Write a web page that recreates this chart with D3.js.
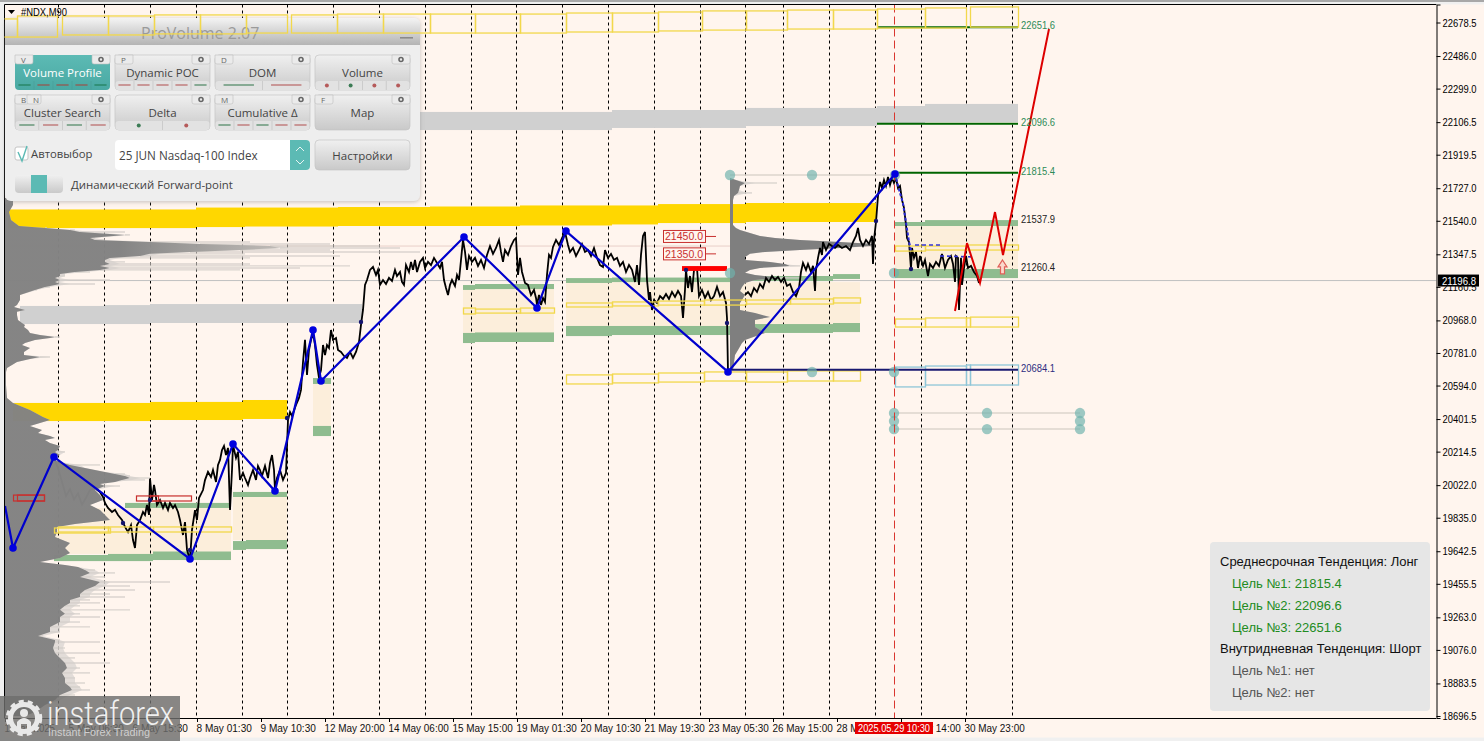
<!DOCTYPE html>
<html><head><meta charset="utf-8">
<script src="https://cdn.jsdelivr.net/npm/d3@7/dist/d3.min.js"></script>
<style>html,body{margin:0;padding:0;background:#f0f0f0;overflow:hidden}svg{display:block}</style>
</head><body><svg id="c" width="1484" height="741"></svg>
<script>
// ---------- chart data (bar number, price) ----------
const yTickValues=[22678.5,22486.0,22299.0,22106.5,21919.5,21727.0,21540.0,21347.5,21160.5,20968.0,20781.0,20594.0,20401.5,20214.5,20022.0,19835.0,19642.5,19455.5,19263.0,19076.0,18883.5,18696.5];
const xTickBars=[5,69,133,197,261,325,389,453,517,581,645,709,773,837,901,965];
const xTickLabels=["1 May 2025","5 May 06:30","6 May 15:30","8 May 01:30","9 May 10:30","12 May 20:00","14 May 06:00","15 May 15:00","19 May 01:30","20 May 10:30","21 May 19:30","23 May 05:30","26 May 15:00","28 May 01:00","29 May 14:00","30 May 23:00"];
const dayBars=[58.5,104.5,150.5,196.5,242.5,287.5,333.5,379.5,425.5,471.5,516.5,562.5,608.5,654.5,700.5,745.5,783.5,829.5,875.5,921.5,966.5,1012.5];
const lastPrice=21196.8;
const pricePath=[[54,20178],[58,20120],[62,20040],[66,19960],[70,20000],[74,19940],[78,19975],[82,19910],[86,19950],[90,19994],[95,20006],[100,19983],[103,19954],[105,19920],[108,19891],[112,19868],[115,19880],[118,19851],[122,19822],[125,19782],[128,19753],[131,19793],[133,19707],[135,19661],[137,19793],[140,19822],[143,19868],[145,19851],[147,19908],[149,19851],[150,20063],[152,19937],[154,20023],[155,19994],[157,19908],[160,19937],[163,19891],[165,19920],[168,19879],[170,19920],[173,19891],[175,19908],[178,19868],[180,19822],[183,19736],[185,19810],[187,19650],[190,19592],[192,19765],[195,19879],[197,19822],[199,19948],[203,19994],[205,20051],[208,20098],[211,20069],[213,20109],[216,20040],[218,20138],[220,20167],[222,20224],[224,20247],[226,20195],[228,20236],[230,19880],[232,20109],[233,20253],[236,20178],[238,20213],[240,20052],[243,20092],[245,20063],[248,20023],[250,20063],[253,20109],[256,20052],[258,20132],[260,20109],[262,20075],[265,20132],[268,20063],[270,20149],[272,20195],[274,20109],[275,19994],[277,20063],[280,20109],[283,20052],[286,20092],[288,20396],[290,20442],[292,20419],[296,20483],[299,20523],[301,20569],[303,20729],[305,20856],[307,20655],[309,20798],[311,20856],[313,20896],[315,20827],[317,20712],[319,20638],[321,20683],[323,20827],[325,20769],[327,20827],[329,20810],[331,20913],[333,20856],[336,20867],[338,20798],[341,20787],[344,20764],[347,20752],[350,20787],[353,20752],[356,20787],[359,20844],[361,20942],[363,21028],[365,21172],[367,21200],[370,21258],[373,21275],[376,21229],[378,21258],[380,21172],[383,21200],[386,21177],[389,21212],[392,21194],[395,21258],[397,21223],[400,21246],[402,21189],[404,21172],[406,21286],[409,21246],[411,21304],[413,21258],[415,21315],[417,21246],[420,21304],[423,21327],[425,21269],[428,21304],[431,21286],[434,21327],[437,21298],[440,21269],[442,21304],[444,21200],[446,21154],[448,21114],[450,21172],[452,21200],[455,21166],[457,21229],[459,21200],[461,21315],[463,21430],[465,21361],[467,21258],[469,21338],[472,21304],[475,21327],[478,21281],[481,21315],[484,21269],[487,21344],[490,21395],[493,21350],[496,21384],[499,21430],[501,21361],[503,21304],[505,21372],[508,21344],[511,21395],[514,21430],[516,21441],[518,21229],[520,21327],[522,21246],[525,21183],[528,21172],[531,21114],[534,21143],[536,21097],[537,21057],[539,21114],[541,21057],[543,21097],[545,21074],[547,21229],[549,21344],[551,21327],[553,21390],[556,21430],[559,21401],[562,21441],[565,21476],[568,21401],[570,21361],[573,21384],[576,21338],[579,21372],[582,21407],[585,21361],[588,21372],[591,21338],[594,21384],[597,21327],[600,21286],[603,21275],[605,21372],[608,21327],[611,21350],[614,21315],[617,21327],[620,21281],[623,21304],[626,21246],[629,21286],[632,21258],[635,21189],[637,21286],[639,21172],[641,21344],[643,21453],[645,21476],[647,21200],[649,21085],[650,21131],[652,21028],[654,21085],[657,21068],[660,21108],[663,21091],[666,21120],[669,21091],[672,21131],[675,21103],[678,21137],[681,21108],[683,20982],[685,21143],[686,21258],[688,21154],[690,21223],[692,21131],[694,21258],[697,21269],[699,21108],[702,21143],[705,21097],[708,21131],[711,21085],[714,21108],[717,21160],[720,21108],[723,21131],[726,21068],[727,20982],[728,20672]];
const pricePathLate=[[745,21114],[748,21131],[751,21108],[754,21154],[757,21131],[760,21177],[763,21154],[766,21212],[769,21189],[772,21223],[775,21200],[778,21218],[781,21189],[784,21212],[787,21166],[790,21177],[793,21131],[796,21108],[799,21154],[801,21246],[803,21298],[806,21258],[808,21292],[811,21246],[813,21281],[815,21137],[816,21258],[818,21327],[820,21384],[822,21344],[823,21418],[826,21372],[829,21407],[832,21395],[835,21384],[838,21401],[842,21384],[846,21395],[850,21372],[853,21418],[856,21453],[858,21499],[860,21430],[863,21395],[866,21430],[869,21407],[872,21453],[873,21292],[874,21430],[876,21533],[878,21683],[880,21763],[882,21728],[884,21774],[886,21740],[888,21792],[890,21746],[892,21786],[894,21757],[896,21786],[898,21728],[900,21740],[902,21660],[904,21614],[906,21516],[907,21441],[909,21418],[911,21263],[912,21384],[914,21327],[916,21361],[918,21269],[920,21338],[923,21281],[925,21315],[928,21223],[930,21292],[933,21269],[936,21304],[939,21281],[942,21350],[945,21269],[948,21315],[951,21338],[953,21292],[955,21189],[956,21338],[958,21327],[959,21028],[961,21327],[962,21172],[964,21269],[966,21338],[968,21269],[971,21281],[974,21246],[977,21223],[979,21183]];
const zigzag=[[5,19902],[13,19661],[54,20184],[190,19598],[233,20258],[275,19988],[313,20913],[321,20620],[464,21447],[537,21039],[566,21481],[728,20672],[895,21809]];
const zigzagForward=[[895,21809],[899,21720],[903,21640],[906,21530],[909,21420],[911,21370]];
const dashSeg1=[[915,21401],[942,21401]];
const dashSeg2=[[940,21338],[975,21332]];
const forecast=[[955,21022],[967,21412],[980,21183],[995,21590],[1003,21343],[1049,22641]];
const pivotDots=[[123,19805],[150,19937],[190,19650],[287,20408],[361,20959],[686,21258],[727,20953],[876,21539],[911,21263]];
const tealDots=[[730,21803],[812,21803],[895,21803],[730,21240],[894,21240],[812,20672],[894,20672],[894,20436],[894,20390],[894,20344],[987,20436],[987,20344],[1080,20436],[1080,20390],[1080,20344]];
const tealLinks=[[730,895,21803],[894,1080,20436],[894,1080,20344]];
const targetLevels=[[877,1018,22651.6,"22651.6"],[877,1018,22096.6,"22096.6"],[895,1018,21815.4,"21815.4"]];
const zoneLabels=[[1018,21537.9,"21537.9"],[1018,21260.4,"21260.4"]];
const supportLevel=[728,1018,20684.1,"20684.1"];
const goldBands=[[8,196,21605,21498],[196,245,21616,21504],[245,338,21616,21507],[338,430,21619,21510],[430,520,21622,21510],[520,612,21628,21513],[612,658,21628,21519],[658,746,21636,21527],[746,876,21642,21533]];
const goldBandsLow=[[13,150,20494,20390],[150,243,20500,20396],[243,287,20511,20402]];
const greyBands=[[420,612,22165,22061],[612,746,22176,22073],[746,877,22188,22084],[877,925,22199,22096],[925,1018,22211,22107],[20,105,21051,20947],[105,150,21056,20947],[150,362,21062,20953]];
const valueAreas=[[54,231,19891,19627],[233,287,19954,19707],[313,331,20603,20362],[463,554,21148,20896],[566,860,21188,20930],[895,1018,21510,21263]];
const greenBars=[[125,231,19920,19891],[54,108,19621,19586],[108,153,19627,19586],[153,231,19641,19592],[233,287,19983,19954],[233,246,19701,19650],[246,287,19707,19655],[313,331,20637,20603],[313,331,20362,20304],[463,475,21171,21143],[475,554,21177,21148],[463,475,20896,20838],[475,554,20899,20844],[566,612,21211,21183],[612,746,21214,21188],[746,833,21223,21194],[833,860,21234,21206],[566,612,20936,20878],[612,746,20936,20884],[746,833,20947,20896],[833,860,20953,20901],[895,925,21533,21510],[925,1018,21544,21510],[895,1018,21263,21211]];
const yellowBoxes=[[54,110,19776,19747],[58,108,19782,19753],[108,153,19782,19753],[153,231,19782,19753],[463,475,21039,21005],[475,520,21033,21010],[520,554,21039,21010],[566,612,21068,21045],[612,658,21074,21051],[658,704,21079,21056],[704,746,21085,21056],[746,790,21085,21062],[790,833,21091,21062],[833,860,21097,21068],[566,612,20655,20603],[612,658,20660,20609],[658,704,20666,20614],[704,746,20672,20620],[746,787,20672,20614],[787,833,20678,20620],[833,860,20678,20620],[895,925,21395,21366],[925,966,21395,21372],[966,1018,21401,21372],[895,925,20976,20930],[925,966,20982,20930],[966,970,20982,20930],[970,1018,20987,20930]];
const topBoxes=[[0,17,22699,22595],[17,57,22716,22595],[62,108,22716,22607],[108,154,22716,22607],[154,200,22722,22613],[200,246,22722,22613],[246,287,22722,22618],[291,337,22722,22618],[337,383,22727,22618],[383,430,22727,22618],[430,475,22727,22618],[475,520,22727,22618],[520,566,22727,22618],[566,612,22733,22624],[612,658,22733,22624],[658,702,22739,22630],[702,746,22745,22635],[746,787,22745,22635],[787,833,22750,22641],[833,877,22750,22641],[877,925,22756,22647],[925,966,22762,22647],[970,1018,22768,22652]];
const blueBoxes=[[895,925,20700,20586],[925,966,20706,20597],[966,970,20712,20597],[970,1018,20712,20597]];
const redBoxes=[[13,44,19965,19931],[17,44,19965,19931],[136,191,19960,19931],[150,158,19960,19931]];
const orderTags=[[663,705,716,21450.0,"21450.0"],[663,705,716,21350.0,"21350.0"]];
const orderBar=[682,727,21280,21252];
const pocLevel=[5,875,21395];
const arrowMark=[[1002.5,21315],[1007,21275],[1004.5,21275],[1004.5,21235],[1000.5,21235],[1000.5,21275],[998,21275]];
// volume profile: [price, core volume, thin volume]
const leftProfile=[[21671,8,8],[21631,8,8],[21591,4,4],[21545,6,6],[21510,14,14],[21499,40,42],[21487,65,70],[21476,75,120],[21459,120,125],[21441,85,90],[21430,90,100],[21418,145,245],[21407,195,325],[21395,265,375],[21384,275,395],[21372,235,325],[21361,185,415],[21350,145,240],[21338,135,335],[21327,105,245],[21315,100,105],[21304,100,120],[21292,105,245],[21281,95,345],[21269,105,295],[21258,95,235],[21246,70,85],[21235,55,60],[21223,55,60],[21212,50,55],[21200,55,105],[21189,50,55],[21177,55,90],[21160,40,45],[21143,30,32],[21114,15,15],[21085,15,15],[21057,12,12],[21045,9,9],[21028,20,20],[21017,12,12],[20999,12,12],[20971,13,13],[20953,17,17],[20942,20,20],[20930,19,19],[20913,23,23],[20896,25,25],[20884,35,35],[20873,50,55],[20867,45,45],[20856,30,30],[20838,20,20],[20827,17,17],[20810,25,25],[20798,22,22],[20787,19,19],[20769,19,19],[20758,35,45],[20746,25,25],[20729,12,12],[20712,7,7],[20695,2,2],[20672,1,1],[20597,1,1],[20523,2,2],[20494,8,8],[20453,25,25],[20413,38,38],[20396,45,45],[20379,35,35],[20362,25,25],[20339,37,37],[20321,33,33],[20304,45,45],[20293,50,50],[20281,40,40],[20264,45,45],[20247,55,55],[20224,53,53],[20213,50,60],[20195,55,55],[20178,45,45],[20166,50,50],[20155,55,55],[20138,65,95],[20121,80,80],[20109,90,90],[20098,100,100],[20086,110,120],[20075,120,125],[20063,125,145],[20052,117,140],[20040,110,110],[20029,95,95],[20017,100,115],[19994,90,90],[19966,95,95],[19937,98,98],[19908,85,85],[19880,95,95],[19851,100,100],[19822,105,105],[19799,70,70],[19782,52,52],[19753,52,52],[19724,50,50],[19690,65,65],[19661,60,60],[19633,65,65],[19604,55,55],[19581,35,35],[19564,60,60],[19552,73,73],[19535,80,90],[19518,85,110],[19495,75,100],[19466,95,165],[19443,90,125],[19420,80,130],[19397,75,105],[19380,75,120],[19363,65,85],[19346,65,95],[19329,60,75],[19306,55,125],[19283,60,75],[19265,55,95],[19236,55,75],[19208,45,85],[19179,45,55],[19156,33,38],[19133,50,55],[19121,50,95],[19087,48,60],[19058,50,95],[19030,55,70],[19001,60,105],[18972,62,75],[18944,57,85],[18915,60,70],[18886,60,80],[18863,65,75],[18846,67,85],[18817,55,70],[18788,50,55],[18760,40,40],[18720,30,30],[18697,20,20]];
const midProfile=[[21785,0,0],[21774,6,6],[21757,15,47],[21740,10,10],[21717,9,9],[21700,8,22],[21683,4,4],[21660,3,3],[21516,3,3],[21499,6,6],[21487,10,10],[21470,20,20],[21453,30,30],[21441,45,45],[21430,70,70],[21418,110,110],[21407,145,145],[21395,140,145],[21384,110,110],[21372,70,70],[21361,35,35],[21350,20,20],[21332,15,15],[21315,15,15],[21304,40,40],[21292,55,55],[21281,60,70],[21269,30,30],[21258,20,20],[21241,15,15],[21229,25,25],[21218,40,40],[21212,50,70],[21200,25,25],[21183,15,15],[21160,12,12],[21137,10,10],[21114,15,15],[21085,12,12],[21068,10,10],[21028,10,10],[21010,25,25],[20988,40,40],[20970,25,25],[20930,25,25],[20896,35,35],[20856,15,15],[20838,12,12],[20798,8,8],[20769,5,5],[20683,3,3]];
const panelButtons=[
 {label:"Volume Profile",keys:["V"],col:0,row:0,active:true,marks:"line",cells:[1,1,1,1,1],tone:"grrrg"},
 {label:"Dynamic POC",keys:["P"],col:1,row:0,marks:"line",cells:[1,1,1,1,1],tone:"rrrrg"},
 {label:"DOM",keys:["D"],col:2,row:0,marks:"line",cells:[1,1],tone:"gr"},
 {label:"Volume",keys:[],col:3,row:0,marks:"dot",cells:[1,1,1,1],tone:"rgrr"},
 {label:"Cluster Search",keys:["B","N"],col:0,row:1,marks:"line",cells:[1,1,1,1],tone:"grgr"},
 {label:"Delta",keys:[],col:1,row:1,marks:"dot",cells:[1,1],tone:"gr"},
 {label:"Cumulative Δ",keys:["M"],col:2,row:1,marks:"line",cells:[1,1,1,1,1],tone:"grgrr"},
 {label:"Map",keys:["F"],col:3,row:1,marks:"none",cells:[],tone:""}];
const trendLines=[["Среднесрочная Тенденция: Лонг","h"],["Цель №1: 21815.4","g"],["Цель №2: 22096.6","g"],["Цель №3: 22651.6","g"],["Внутридневная Тенденция: Шорт","h"],["Цель №1: нет","n"],["Цель №2: нет","n"]];

// ---------- scales ----------
const svg=d3.select("#c");
const L=4.5,R=1436.5,T=4.5,B=718;
const x=d3.scaleLinear().domain([0,1484]).range([0,1484]);
const y=d3.scaleLinear().domain([18685,22781.9]).range([B,T]);
const tickFont="'Liberation Sans',Arial,sans-serif";
svg.append("rect").attr("width",1484).attr("height",741).attr("fill","#f0f0f0");
svg.append("rect").attr("width",1484).attr("height",2).attr("fill","#a8a8a8");
svg.append("rect").attr("x",L).attr("y",T).attr("width",1484-L).attr("height",733).attr("fill","#FFF5EE");
const defs=svg.append("defs");
defs.append("clipPath").attr("id","plot").append("rect").attr("x",L).attr("y",T).attr("width",R-L).attr("height",B-T);
const fade=defs.append("linearGradient").attr("id","gProfile").attr("gradientUnits","userSpaceOnUse").attr("x1",0).attr("x2",400).attr("y1",0).attr("y2",0);
fade.append("stop").attr("offset",.3).attr("stop-color","#7f7f7f");
fade.append("stop").attr("offset",.7).attr("stop-color","#bdb9b5");
fade.append("stop").attr("offset",1).attr("stop-color","#d6d2ce");
const g=svg.append("g").attr("clip-path","url(#plot)");
const addRects=(sel,arr,fill)=>sel.append("g").selectAll("rect").data(arr).join("rect")
  .attr("x",d=>x(d[0])).attr("width",d=>x(d[1])-x(d[0])).attr("y",d=>y(d[2])).attr("height",d=>y(d[3])-y(d[2])).attr("fill",fill);
const addBoxes=(sel,arr,col,sw)=>sel.append("g").selectAll("rect").data(arr).join("rect")
  .attr("x",d=>x(d[0])+.5).attr("width",d=>x(d[1])-x(d[0])).attr("y",d=>y(d[2])).attr("height",d=>y(d[3])-y(d[2])).attr("fill","none").attr("stroke",col).attr("stroke-width",sw);
const ln=d3.line().x(d=>x(d[0])).y(d=>y(d[1]));

addRects(g,valueAreas,"#FCEEDB");
g.append("line").attr("x1",x(pocLevel[0])).attr("x2",x(pocLevel[1])).attr("y1",y(pocLevel[2])).attr("y2",y(pocLevel[2])).attr("stroke","#e8cfc8").attr("stroke-width",1);
g.append("g").selectAll("line").data(dayBars).join("line").attr("x1",d=>x(d)).attr("x2",d=>x(d)).attr("y1",T).attr("y2",B).attr("stroke","#000").attr("stroke-width",1).attr("stroke-dasharray","3,3");
g.append("line").attr("x1",L).attr("x2",R).attr("y1",y(lastPrice)).attr("y2",y(lastPrice)).attr("stroke","#c0c0c0").attr("stroke-width",1);
addRects(g,greyBands,"#D0D0D0");
addRects(g,goldBandsLow,"#FFD700");
addRects(g,greenBars,"#8FBC8F");
addRects(g,goldBands,"#FFD700");

// profiles: a narrow soft edge, thin streaks for the long tails, solid core on top
function drawProfile(data,base,opacity,fill){
  const halo=d3.area().y(d=>y(d[0])).x0(x(base)).x1(d=>x(base+Math.min(d[2],d[1]+10)));
  g.append("path").attr("d",halo(data)).attr("fill","#d6d2ce").attr("opacity",.7);
  g.append("g").selectAll("line").data(data.filter(d=>d[2]>d[1])).join("line")
    .attr("x1",d=>x(base+d[1])).attr("x2",d=>x(base+d[2])).attr("y1",d=>y(d[0])).attr("y2",d=>y(d[0]))
    .attr("stroke","#d4cfca").attr("stroke-width",1.4).attr("opacity",.85);
  const core=d3.area().y(d=>y(d[0])).x0(x(base)).x1(d=>x(base+d[1]));
  g.append("path").attr("d",core(data)).attr("fill",fill).attr("opacity",opacity);
}
drawProfile(midProfile,730,1,"#7f7f7f");
g.append("g").selectAll("line").data(tealLinks).join("line").attr("x1",d=>x(d[0])).attr("x2",d=>x(d[1])).attr("y1",d=>y(d[2])).attr("y2",d=>y(d[2])).attr("stroke","#dcd4cc").attr("stroke-width",1.5);
// price
[pricePath,pricePathLate].forEach(s=>g.append("path").attr("d",ln(s)).attr("fill","none").attr("stroke","#000").attr("stroke-width",1.8).attr("stroke-linejoin","miter"));
drawProfile(leftProfile,5,.94,"url(#gProfile)");

// outlined boxes
addBoxes(g,yellowBoxes,"#F2D84B",1.3);
addBoxes(g,blueBoxes,"#8FC6D8",1.3);
addBoxes(g,redBoxes,"#C8302E",1.2);
// red order markers
addRects(g,[orderBar],"#FF0000");
const tags=g.append("g").selectAll("g").data(orderTags).join("g");
tags.append("line").attr("x1",d=>x(d[1])).attr("x2",d=>x(d[2])).attr("y1",d=>y(d[3])).attr("y2",d=>y(d[3])).attr("stroke","#C8302E");
tags.append("rect").attr("x",d=>x(d[0])+.5).attr("width",d=>x(d[1])-x(d[0])).attr("y",d=>y(d[3])-6).attr("height",12).attr("fill","#FFF5EE").attr("stroke","#C8302E");
tags.append("text").text(d=>d[4]).attr("x",d=>x(d[0])+2).attr("y",d=>y(d[3])+4).attr("font-family",tickFont).attr("font-size",11).attr("fill","#C8302E").attr("textLength",38).attr("lengthAdjust","spacingAndGlyphs");

// level lines
g.append("g").selectAll("line").data(targetLevels).join("line").attr("x1",d=>x(d[0])).attr("x2",d=>x(d[1])).attr("y1",d=>y(d[2])).attr("y2",d=>y(d[2])).attr("stroke","#006400").attr("stroke-width",2);
g.append("line").attr("x1",x(supportLevel[0])).attr("x2",x(supportLevel[1])).attr("y1",y(supportLevel[2])).attr("y2",y(supportLevel[2])).attr("stroke","#191970").attr("stroke-width",2);
g.append("g").selectAll("circle").data(tealDots).join("circle").attr("cx",d=>x(d[0])).attr("cy",d=>y(d[1])).attr("r",5.2).attr("fill","#6FB3AC").attr("opacity",.68);
g.append("line").attr("x1",x(894.5)).attr("x2",x(894.5)).attr("y1",T).attr("y2",B).attr("stroke","#D9362F").attr("stroke-width",1).attr("stroke-dasharray","8,4");
// zigzag
g.append("path").attr("d",ln(zigzag)).attr("fill","none").attr("stroke","#0000CD").attr("stroke-width",2.2);
g.append("path").attr("d",ln(zigzagForward)).attr("fill","none").attr("stroke","#2a2ad8").attr("stroke-width",2).attr("stroke-dasharray","3,2");
[dashSeg1,dashSeg2].forEach(s=>g.append("path").attr("d",ln(s)).attr("fill","none").attr("stroke","#3434d8").attr("stroke-width",1.6).attr("stroke-dasharray","4,3"));
g.append("g").selectAll("circle").data(zigzag.slice(1)).join("circle").attr("cx",d=>x(d[0])).attr("cy",d=>y(d[1])).attr("r",3.8).attr("fill","#0000E0");
g.append("g").selectAll("circle").data(pivotDots).join("circle").attr("cx",d=>x(d[0])).attr("cy",d=>y(d[1])).attr("r",2.2).attr("fill","#14146e");
// forecast
g.append("path").attr("d",ln(forecast)).attr("fill","none").attr("stroke","#DD0000").attr("stroke-width",2);
g.append("path").attr("d",ln(arrowMark)+"Z").attr("fill","#fbd8cc").attr("stroke","#E06058").attr("stroke-width",1.2);

// level labels
const lab=(arr,col)=>g.append("g").selectAll("text").data(arr).join("text").text(d=>d[d.length-1]).attr("x",1021).attr("y",d=>y(d[d.length-2])+2).attr("font-family",tickFont).attr("font-size",11).attr("fill",col).attr("textLength",34).attr("lengthAdjust","spacingAndGlyphs");
lab(targetLevels,"#2E8B57");lab(zoneLabels,"#222");lab([supportLevel],"#2c2c80");

// ---------- axes ----------
const ya=svg.append("g").attr("transform",`translate(${R},0)`).call(d3.axisRight(y).tickValues(yTickValues).tickFormat(d3.format(".1f")).tickSize(4).tickPadding(2));
ya.select(".domain").attr("stroke","#000").attr("stroke-width",1);
ya.selectAll("text").attr("font-family",tickFont).attr("font-size",11).attr("fill","#000").attr("textLength",34).attr("lengthAdjust","spacingAndGlyphs");
const xa=svg.append("g").attr("transform",`translate(0,${B})`).call(d3.axisBottom(x).tickValues(xTickBars).tickFormat((d,i)=>xTickLabels[i]).tickSize(4).tickPadding(2));
xa.select(".domain").attr("d",`M${L},0.5H${R}`).attr("stroke","#000");
xa.selectAll("text").attr("text-anchor","start").attr("dx",-1).attr("font-family",tickFont).attr("font-size",10.6).attr("fill","#111").attr("textLength",d=>{const i=xTickBars.indexOf(d);return xTickLabels[i].length*4.85+2}).attr("lengthAdjust","spacingAndGlyphs");
svg.append("line").attr("x1",L).attr("x2",L).attr("y1",T).attr("y2",B).attr("stroke","#000");
svg.append("line").attr("x1",L).attr("x2",R).attr("y1",T).attr("y2",T).attr("stroke","#000");

// last price and time flags
svg.append("rect").attr("x",1438).attr("y",y(lastPrice)-6).attr("width",41).attr("height",12).attr("fill","#000");
svg.append("text").text(lastPrice.toFixed(1)).attr("x",1442).attr("y",y(lastPrice)+4).attr("font-family",tickFont).attr("font-size",11).attr("fill","#fff").attr("textLength",34).attr("lengthAdjust","spacingAndGlyphs");
svg.append("rect").attr("x",855).attr("y",722).attr("width",78).attr("height",12).attr("fill","#E60000");
svg.append("text").text("2025.05.29 10:30").attr("x",858).attr("y",732).attr("font-family",tickFont).attr("font-size",10.6).attr("fill","#fff").attr("textLength",72).attr("lengthAdjust","spacingAndGlyphs");

// ---------- ProVolume panel ----------
const pf="'Open Sans','Noto Sans',sans-serif";
const mkGrad=(id,a,b)=>{const lg=defs.append("linearGradient").attr("id",id).attr("x1",0).attr("x2",0).attr("y1",0).attr("y2",1);lg.append("stop").attr("offset",0).attr("stop-color",a);lg.append("stop").attr("offset",1).attr("stop-color",b);};
mkGrad("gBtn","#f0f0f0","#c9c9c9");mkGrad("gTitle","#f4f4f4","#b4b4b4");mkGrad("gAct","#5cbab4","#4aa9a3");
const flt=defs.append("filter").attr("id","sh").attr("x","-5%").attr("y","-5%").attr("width","110%").attr("height","110%");
flt.append("feDropShadow").attr("dx",0).attr("dy",1).attr("stdDeviation",2).attr("flood-color","#888").attr("flood-opacity",.5);
const p=svg.append("g");
p.append("rect").attr("x",5).attr("y",18).attr("width",415).attr("height",183).attr("rx",6).attr("fill","#eeeeee").attr("filter","url(#sh)");
p.append("path").attr("d","M5,45V24a6,6 0 0 1 6,-6H414a6,6 0 0 1 6,6V45Z").attr("fill","url(#gTitle)");
p.append("text").text("ProVolume 2.07").attr("x",141).attr("y",39).attr("font-family",pf).attr("font-size",16).attr("fill","#9a9a9a");
p.append("rect").attr("x",400).attr("y",37).attr("width",13).attr("height",1.6).attr("fill","#8a8a8a");
const colX=[15,115,215,315],rowY=[55,95];
panelButtons.forEach(b=>{
  const bx=colX[b.col],by=rowY[b.row],w=95,h=35,gp=p.append("g");
  gp.append("rect").attr("x",bx).attr("y",by).attr("width",w).attr("height",h).attr("rx",4).attr("fill",b.active?"url(#gAct)":"url(#gBtn)").attr("stroke","#c4c4c4").attr("stroke-width",b.active?0:.7);
  b.keys.forEach((k,i)=>{
    gp.append("path").attr("d",`M${bx+i*12},${by}v7a2,2 0 0 0 2,2h${i==0&&b.keys.length==1?14:10}a2,2 0 0 0 2,-2v-7Z`).attr("fill","#ebebeb").attr("stroke","#bdbdbd").attr("stroke-width",.6);
    gp.append("text").text(k).attr("x",bx+6+i*12).attr("y",by+7.5).attr("font-family",pf).attr("font-size",8).attr("fill","#666");
  });
  gp.append("path").attr("d",`M${bx+w-18},${by}v7a2,2 0 0 0 2,2h14a2,2 0 0 0 2,-2v-7Z`).attr("fill","#ebebeb").attr("stroke","#bdbdbd").attr("stroke-width",.6);
  gp.append("circle").attr("cx",bx+w-9).attr("cy",by+4.5).attr("r",2).attr("fill","none").attr("stroke","#666").attr("stroke-width",1.6);
  const hasFoot=b.marks!=="none";
  gp.append("text").text(b.label).attr("x",bx+w/2).attr("y",by+22).attr("text-anchor","middle").attr("font-family",pf).attr("font-size",11.5).attr("fill",b.active?"#fff":"#444");
  if(hasFoot){
    const n=b.cells.length,fy=by+26,fh=9;
    const widths=b.cells.map(()=>w/n);
    let cx=bx;
    if(!b.active)gp.append("rect").attr("x",bx+.5).attr("y",fy).attr("width",w-1).attr("height",fh).attr("rx",3).attr("fill","#e2e2e2");
    widths.forEach((cw,i)=>{
      const col=b.tone[i]==="g"?(b.active?"#1d7a53":"#3c7c55"):(b.active?"#a04a40":"#b55a5a");
      if(i>0)gp.append("line").attr("x1",cx).attr("x2",cx).attr("y1",fy).attr("y2",fy+fh).attr("stroke",b.active?"#4a9e98":"#c2c2c2").attr("stroke-width",.7);
      if(b.marks==="line")gp.append("line").attr("x1",cx+cw*.18).attr("x2",cx+cw*.82).attr("y1",fy+4).attr("y2",fy+4).attr("stroke",col).attr("stroke-width",1.1);
      else gp.append("circle").attr("cx",cx+cw/2).attr("cy",fy+4.5).attr("r",2).attr("fill",col);
      cx+=cw;
    });
  }
});
p.append("rect").attr("x",15).attr("y",147).attr("width",13).attr("height",13).attr("rx",2).attr("fill","#fff").attr("stroke","#c4c4c4");
p.append("path").attr("d","M18,152L22,161L27,146").attr("fill","none").attr("stroke","#5cbab4").attr("stroke-width",1.4);
p.append("text").text("Автовыбор").attr("x",31).attr("y",158).attr("font-family",pf).attr("font-size",11.3).attr("fill","#444");
p.append("rect").attr("x",115).attr("y",140).attr("width",195).attr("height",30).attr("rx",4).attr("fill","#fff");
p.append("path").attr("d","M290,140h16a4,4 0 0 1 4,4v22a4,4 0 0 1 -4,4h-16Z").attr("fill","#5cbab4");
p.append("path").attr("d","M296,151l4,-4l4,4M296,160l4,4l4,-4").attr("fill","none").attr("stroke","#e8f4f3").attr("stroke-width",1);
p.append("text").text("25 JUN Nasdaq-100 Index").attr("x",119).attr("y",160).attr("font-family",pf).attr("font-size",11.7).attr("fill","#444");
p.append("rect").attr("x",315).attr("y",140).attr("width",95).attr("height",30).attr("rx",4).attr("fill","url(#gBtn)").attr("stroke","#c4c4c4").attr("stroke-width",.7);
p.append("text").text("Настройки").attr("x",362.5).attr("y",160).attr("text-anchor","middle").attr("font-family",pf).attr("font-size",11.5).attr("fill","#444");
p.append("rect").attr("x",15).attr("y",175).attr("width",48).attr("height",18).attr("rx",4).attr("fill","url(#gBtn)");
p.append("rect").attr("x",31).attr("y",175).attr("width",16).attr("height",18).attr("fill","#5cbab4");
p.append("text").text("Динамический Forward-point").attr("x",71).attr("y",189).attr("font-family",pf).attr("font-size",11.4).attr("fill","#444");

// top box row lies over the panel, with chart caption
const gt=svg.append("g").attr("clip-path","url(#plot)");
addBoxes(gt,topBoxes,"#F2D84B",1.3);
svg.append("path").attr("d","M8,10h7l-3.5,4Z").attr("fill","#000");
svg.append("text").text("#NDX,M90").attr("x",21).attr("y",16).attr("font-family",tickFont).attr("font-size",10.5).attr("fill","#000").attr("textLength",46).attr("lengthAdjust","spacingAndGlyphs");

// ---------- trend box ----------
svg.append("rect").attr("x",1210).attr("y",542).attr("width",220).attr("height",169).attr("rx",4).attr("fill","#E6E6E6");
const trendY=d3.scalePoint().domain(d3.range(trendLines.length)).range([566,697]);
svg.append("g").selectAll("text").data(trendLines).join("text").text(d=>d[0])
  .attr("x",d=>d[1]==="h"?1220:1232).attr("y",(d,i)=>trendY(i)).attr("font-family",tickFont).attr("font-size",13)
  .attr("fill",d=>d[1]==="h"?"#111":d[1]==="g"?"#228B22":"#555");

// ---------- watermark ----------
const wm=svg.append("g");
wm.append("rect").attr("x",0).attr("y",696).attr("width",180).attr("height",45).attr("fill","#6e6e6c").attr("opacity",.82);
wm.append("circle").attr("cx",24).attr("cy",718).attr("r",13.5).attr("fill","none").attr("stroke","#e8e8e8").attr("stroke-width",5);
wm.append("circle").attr("cx",24).attr("cy",718).attr("r",16.5).attr("fill","none").attr("stroke","#e8e8e8").attr("stroke-width",3.5).attr("stroke-dasharray","5,4");
wm.append("circle").attr("cx",24).attr("cy",713).attr("r",4).attr("fill","#e8e8e8");
wm.append("path").attr("d","M17,731V722Q24,714 31,722V731H27V724H21V731Z").attr("fill","#e8e8e8");
wm.append("text").text("instaforex").attr("x",47).attr("y",725).attr("font-family","Roboto,sans-serif").attr("font-weight",300).attr("font-size",33).attr("fill","#f0f0f0").attr("textLength",127).attr("lengthAdjust","spacingAndGlyphs");
wm.append("text").text("Instant Forex Trading").attr("x",48).attr("y",736).attr("font-family",tickFont).attr("font-size",11.5).attr("fill","#cfcfcf").attr("textLength",102).attr("lengthAdjust","spacingAndGlyphs");
</script></body></html>
